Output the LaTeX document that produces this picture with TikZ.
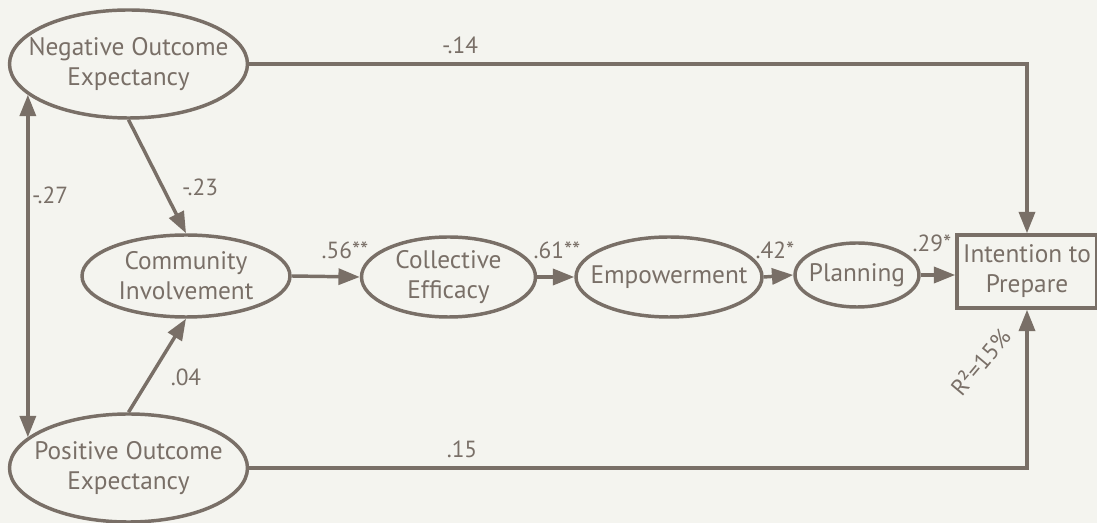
\documentclass[tikz,border=0pt]{standalone}
\usepackage{fontspec}
\setmainfont{PT Sans}
\usepackage{xcolor}
\usetikzlibrary{shapes.geometric,arrows.meta}

\definecolor{paper}{RGB}{244,244,239}
\definecolor{ink}{RGB}{121,111,103}

\tikzset{
  latent/.style={ellipse, draw=ink, line width=2.6pt, text=ink, align=center, inner xsep=-30pt, inner ysep=-12pt,
    font=\fontsize{19}{22.5}\selectfont},
  observed/.style={rectangle, draw=ink, line width=2.6pt, text=ink, align=center, inner sep=0pt,
    font=\fontsize{19}{22.5}\selectfont},
  coef/.style={text=ink, inner sep=0pt, font=\fontsize{17.5}{20}\selectfont},
  path/.style={draw=ink, line width=2.6pt, -{Triangle[length=16pt,width=12pt]}},
  corr/.style={draw=ink, line width=2.6pt, {Triangle[length=16pt,width=12pt]}-{Triangle[length=16pt,width=12pt]}}
}

\begin{document}
\begin{tikzpicture}[x=0.75pt,y=0.75pt,yscale=-1,xscale=1]
\fill[paper] (0,0) rectangle (1097,523);
\useasboundingbox (0,0) rectangle (1097,523);

%Ellipses
\node[latent, minimum width=238*0.75pt, minimum height=108*0.75pt] (neg) at (128.5,64) {Negative Outcome\\Expectancy};
\node[latent, minimum width=238*0.75pt, minimum height=108*0.75pt] (pos) at (128.5,468) {Positive Outcome\\Expectancy};
\node[latent, minimum width=208*0.75pt, minimum height=82*0.75pt] (comm) at (186,276) {Community\\Involvement};
\node[latent, minimum width=174*0.75pt, minimum height=80*0.75pt] (ce) at (448.5,277) {Collective\\Efficacy};
\node[latent, minimum width=186*0.75pt, minimum height=80*0.75pt] (emp) at (669,277) {Empowerment};
\node[latent, minimum width=124*0.75pt, minimum height=64*0.75pt] (plan) at (857,275) {Planning};

%Rectangle
\node[observed, minimum width=140*0.75pt, minimum height=73*0.75pt] (itp) at (1027,271.5) {Intention to\\Prepare};

%Straight Lines
\draw[path] (neg.east) -| (itp.north);
\draw[path] (pos.east) -| (itp.south);
\draw[corr] (neg.197) -- (pos.163);
\draw[path] (neg.south) -- (comm.north);
\draw[path] (pos.north) -- (comm.south);
\draw[path] (comm.east) -- (ce.west);
\draw[path] (ce.east) -- (emp.west);
\draw[path] (emp.east) -- (plan.west);
\draw[path] (plan.east) -- (plan.east -| itp.west);

% Text Node
\node[coef] (c14) at (460,45) {-.14};
\node[coef] (c15) at (462,449) {.15};
\node[coef] (c27) at (50,195) {-.27};
\node[coef] (c23) at (200,187) {-.23};
\node[coef] (c04) at (186,377) {.04};
\node[coef] (c56) at (345,250) {.56**};
\node[coef] (c61) at (557,250) {.61**};
\node[coef] (c42) at (775,250) {.42*};
\node[coef] (c29) at (932,243) {.29*};
\node[coef, rotate=50] (rsq) at (980,362) {R²=15\%};
\end{tikzpicture}
\end{document}
